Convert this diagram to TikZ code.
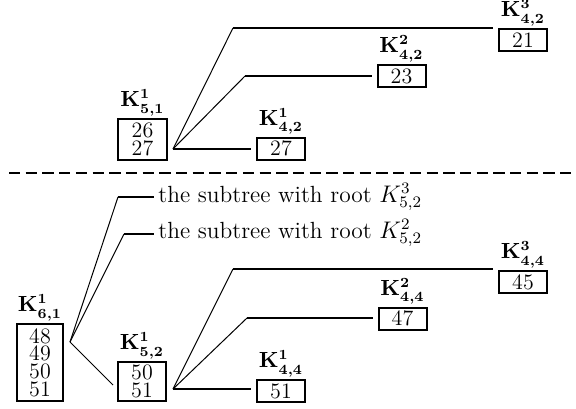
\documentclass[tikz,border=0pt]{standalone}
\usepackage{amsmath}
\begin{document}
\begin{tikzpicture}[x=0.5pt,y=-0.5pt,
  kbox/.style={draw, line width=1pt, inner sep=0pt, align=center,
    font=\fontsize{11}{8.9}\selectfont},
  single/.style={kbox, minimum width=24pt, minimum height=11pt},
  klabel/.style={anchor=south, inner sep=0.8pt, font=\fontsize{10.5}{12}\selectfont\boldmath},
  subtxt/.style={anchor=base west, inner sep=1pt, font=\fontsize{11.7}{13}\selectfont},
  thinline/.style={line width=0.5pt},
  medline/.style={line width=0.9pt},
  thickline/.style={line width=1.35pt},
  gap/.style={shorten >=2.5pt},
  sepline/.style={line width=0.75pt, dash pattern=on 5.65pt off 2.7pt}
]
\useasboundingbox (0,0) rectangle (576,408);
% ---------- upper tree ----------
\node[kbox, minimum width=24.5pt, minimum height=20.5pt] (A) at (142.5,139.5) {26\\27};
\node[single] (B) at (281,148.5) {27};
\node[single] (C) at (401.5,76) {23};
\node[single] (D) at (523,40) {21};
\node[klabel] (lA) at (A.north) {$\mathbf{K}^{1}_{5,1}$};
\node[klabel] (lB) at (B.north) {$\mathbf{K}^{1}_{4,2}$};
\node[klabel] (lC) at (C.north) {$\mathbf{K}^{2}_{4,2}$};
\node[klabel] (lD) at (D.north) {$\mathbf{K}^{3}_{4,2}$};
\coordinate (fA) at (173,149);
\coordinate (bC) at (245,76);
\coordinate (bD) at (233,28);
\draw[thinline] (fA) -- (bD);
\draw[thinline] (fA) -- (bC);
\draw[medline, gap] (bD) -- (bD -| D.west);
\draw[thickline, gap] (bC) -- (bC -| C.west);
\draw[medline, gap] (fA) -- (fA -| B.west);
% ---------- separator ----------
\coordinate (dl) at (9,173);
\coordinate (dr) at (576,173);
\draw[sepline] (dl) -- (dr);
% ---------- lower tree ----------
\node[kbox, minimum width=23pt, minimum height=38.5pt] (E) at (40,362.5) {48\\49\\50\\51};
\node[kbox, minimum width=24pt, minimum height=19.5pt] (F) at (142,381.5) {50\\51};
\node[single] (G) at (281,391) {51};
\node[single] (H) at (402.5,318.5) {47};
\node[single] (I) at (523,282) {45};
\node[klabel] (lE) at (E.north) {$\mathbf{K}^{1}_{6,1}$};
\node[klabel] (lF) at (F.north) {$\mathbf{K}^{1}_{5,2}$};
\node[klabel] (lG) at (G.north) {$\mathbf{K}^{1}_{4,4}$};
\node[klabel] (lH) at (H.north) {$\mathbf{K}^{2}_{4,4}$};
\node[klabel] (lI) at (I.north) {$\mathbf{K}^{3}_{4,4}$};
\node[subtxt] (T3) at (156,202) {the subtree with root $K^3_{5,2}$};
\node[subtxt] (T2) at (156,238) {the subtree with root $K^2_{5,2}$};
\coordinate (fE) at (70,342);
\coordinate (s3) at (118,197);
\coordinate (s2) at (124,234);
\coordinate (eF) at (113,385);
\draw[thinline] (fE) -- (s3);
\draw[thinline] (fE) -- (s2);
\draw[thinline] (fE) -- (eF);
\draw[thickline, shorten >=1pt] (s3) -- (s3 -| T3.west);
\draw[medline, shorten >=1pt] (s2) -- (s2 -| T2.west);
\coordinate (fF) at (173,389);
\coordinate (bH) at (247,318);
\coordinate (bI) at (233,269);
\draw[thinline] (fF) -- (bI);
\draw[thinline] (fF) -- (bH);
\draw[medline, gap] (bI) -- (bI -| I.west);
\draw[thickline, gap] (bH) -- (bH -| H.west);
\draw[medline, gap] (fF) -- (fF -| G.west);
\end{tikzpicture}
\end{document}
